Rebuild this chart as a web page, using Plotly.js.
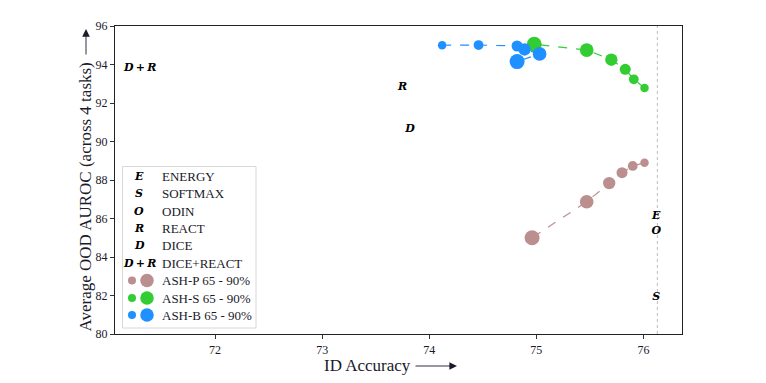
<!DOCTYPE html>
<html>
<head>
<meta charset="utf-8">
<script src="https://cdn.plot.ly/plotly-3.0.1.min.js"></script>
<style>html,body{margin:0;padding:0;background:#fff;}#chart{width:766px;height:383px;}</style>
</head>
<body>
<div id="chart"></div>
<script>
// ---- data ----
const methodLabels = ['E', 'S', 'O', 'R', 'D', 'D\u2009+\u2009R'];
const methodNames = ['ENERGY', 'SOFTMAX', 'ODIN', 'REACT', 'DICE', 'DICE+REACT'];
const methodX = [76.12, 76.12, 76.12, 73.75, 73.82, 71.30];
const methodY = [86.13, 81.92, 85.35, 92.83, 90.65, 93.82];

const pruneLevels = [65, 70, 75, 80, 85, 90];
const ashP_x = [76.01, 75.90, 75.80, 75.68, 75.47, 74.96];
const ashP_y = [88.90, 88.73, 88.38, 87.84, 86.87, 85.00];
const ashS_x = [76.01, 75.91, 75.83, 75.70, 75.47, 74.98];
const ashS_y = [92.78, 93.23, 93.75, 94.25, 94.75, 95.05];
const ashB_x = [74.12, 74.46, 74.82, 74.89, 75.03, 74.82];
const ashB_y = [95.00, 95.01, 94.96, 94.78, 94.55, 94.15];
const ashNames = ['ASH-P 65 - 90%', 'ASH-S 65 - 90%', 'ASH-B 65 - 90%'];
const baselineAcc = 76.13;

const xTicks = [72, 73, 74, 75, 76];
const yTicks = [80, 82, 84, 86, 88, 90, 92, 94, 96];
const xTitle = 'ID Accuracy';
const yTitle = 'Average OOD AUROC (across 4 tasks)';

// ---- styles ----
const serif = 'Liberation Serif, DejaVu Serif, serif';
const symFont = {family: 'DejaVu Serif, serif', size: 11, color: '#000', weight: 'bold', style: 'italic'};
const txtColor = '#1a1a2a';
const colP = '#bc8f8f', colS = '#32cd32', colB = '#1e90ff';
const sizes = pruneLevels.map(p => 8.5 + (p - 65) * 0.26);

function ashTrace(x, y, c) {
  return {x: x, y: y, type: 'scatter', mode: 'lines+markers',
    line: {color: c, dash: 'dash', width: 1.2},
    marker: {color: c, size: sizes, opacity: 1, line: {width: 0}}, showlegend: false, hoverinfo: 'skip'};
}

const traces = [
  {x: methodX, y: methodY, text: methodLabels, type: 'scatter', mode: 'text',
   textfont: symFont, textposition: 'middle center', showlegend: false, hoverinfo: 'skip'},
  ashTrace(ashP_x, ashP_y, colP),
  ashTrace(ashS_x, ashS_y, colS),
  ashTrace(ashB_x, ashB_y, colB)
];

// ---- manual legend ----
const dom = {l: 115, r: 682, t: 26, b: 334};
const px2x = p => (p - dom.l) / (dom.r - dom.l);
const px2y = p => (dom.b - p) / (dom.b - dom.t);
const rowY = [176, 193.5, 211, 228, 245.5, 263, 280.5, 298, 315];
const shapes = [
  {type: 'line', xref: 'x', yref: 'paper', x0: baselineAcc, x1: baselineAcc, y0: 0, y1: 1,
   line: {color: '#bbbbbb', width: 1, dash: 'dot'}, layer: 'below'},
  {type: 'rect', xref: 'paper', yref: 'paper', x0: px2x(122.5), x1: px2x(256), y0: px2y(328), y1: px2y(166.5),
   line: {color: '#d8d8d8', width: 1}, fillcolor: 'rgba(255,255,255,0.85)', layer: 'above'}
];
const annotations = [];
const allNames = methodNames.concat(ashNames);
allNames.forEach((nm, i) => {
  annotations.push({xref: 'paper', yref: 'paper', x: px2x(160), y: px2y(rowY[i]), xanchor: 'left', yanchor: 'middle',
    text: nm, showarrow: false, font: {family: serif, size: 13, color: txtColor}});
});
methodLabels.forEach((lb, i) => {
  annotations.push({xref: 'paper', yref: 'paper', x: px2x(139), y: px2y(rowY[i]), xanchor: 'center', yanchor: 'middle',
    text: lb, showarrow: false, font: symFont});
});
[colP, colS, colB].forEach((c, k) => {
  const yy = px2y(rowY[6 + k]);
  [[132, 8], [147, 13.5]].forEach(([cx, d]) => {
    shapes.push({type: 'circle', xref: 'paper', yref: 'paper', xsizemode: 'pixel', ysizemode: 'pixel',
      xanchor: px2x(cx), yanchor: yy, x0: -d / 2, x1: d / 2, y0: -d / 2, y1: d / 2,
      fillcolor: c, line: {width: 0}, layer: 'above'});
  });
});
// axis titles
annotations.push({xref: 'paper', yref: 'paper', x: px2x(367.5), y: px2y(365), xanchor: 'center', yanchor: 'middle',
  text: xTitle, showarrow: false, font: {family: serif, size: 17, color: txtColor}});
annotations.push({xref: 'paper', yref: 'paper', x: px2x(85), y: px2y(197.5), xanchor: 'center', yanchor: 'middle',
  textangle: -90, text: yTitle, showarrow: false, font: {family: serif, size: 17, color: txtColor}});
// long arrows after titles
annotations.push({xref: 'paper', yref: 'paper', x: px2x(457), y: px2y(366), text: '', showarrow: true,
  ax: -43, ay: 0, arrowhead: 2, arrowsize: 1.7, arrowwidth: 0.9, arrowcolor: txtColor, standoff: 0, startstandoff: 0});
annotations.push({xref: 'paper', yref: 'paper', x: px2x(86), y: px2y(29), text: '', showarrow: true,
  ax: 0, ay: 27, arrowhead: 2, arrowsize: 1.7, arrowwidth: 0.9, arrowcolor: txtColor, standoff: 0, startstandoff: 0});

const layout = {
  width: 766, height: 383,
  margin: {l: dom.l, r: 766 - dom.r, t: dom.t, b: 383 - dom.b},
  paper_bgcolor: '#fff', plot_bgcolor: '#fff',
  font: {family: serif, color: txtColor},
  xaxis: {range: [71.065, 76.36], tickvals: xTicks, ticktext: xTicks.map(String),
    ticks: 'outside', ticklen: 4, tickwidth: 1, tickcolor: '#333',
    showline: true, mirror: true, linecolor: '#222', linewidth: 1.2, showgrid: false, zeroline: false,
    tickfont: {family: serif, size: 12, color: txtColor}},
  yaxis: {range: [80, 96], tickvals: yTicks, ticktext: yTicks.map(String),
    ticks: 'outside', ticklen: 4, tickwidth: 1, tickcolor: '#333',
    showline: true, mirror: true, linecolor: '#222', linewidth: 1.2, showgrid: false, zeroline: false,
    tickfont: {family: serif, size: 12, color: txtColor}},
  shapes: shapes,
  annotations: annotations,
  showlegend: false
};

Plotly.newPlot('chart', traces, layout, {staticPlot: true, displayModeBar: false});
</script>
</body>
</html>
